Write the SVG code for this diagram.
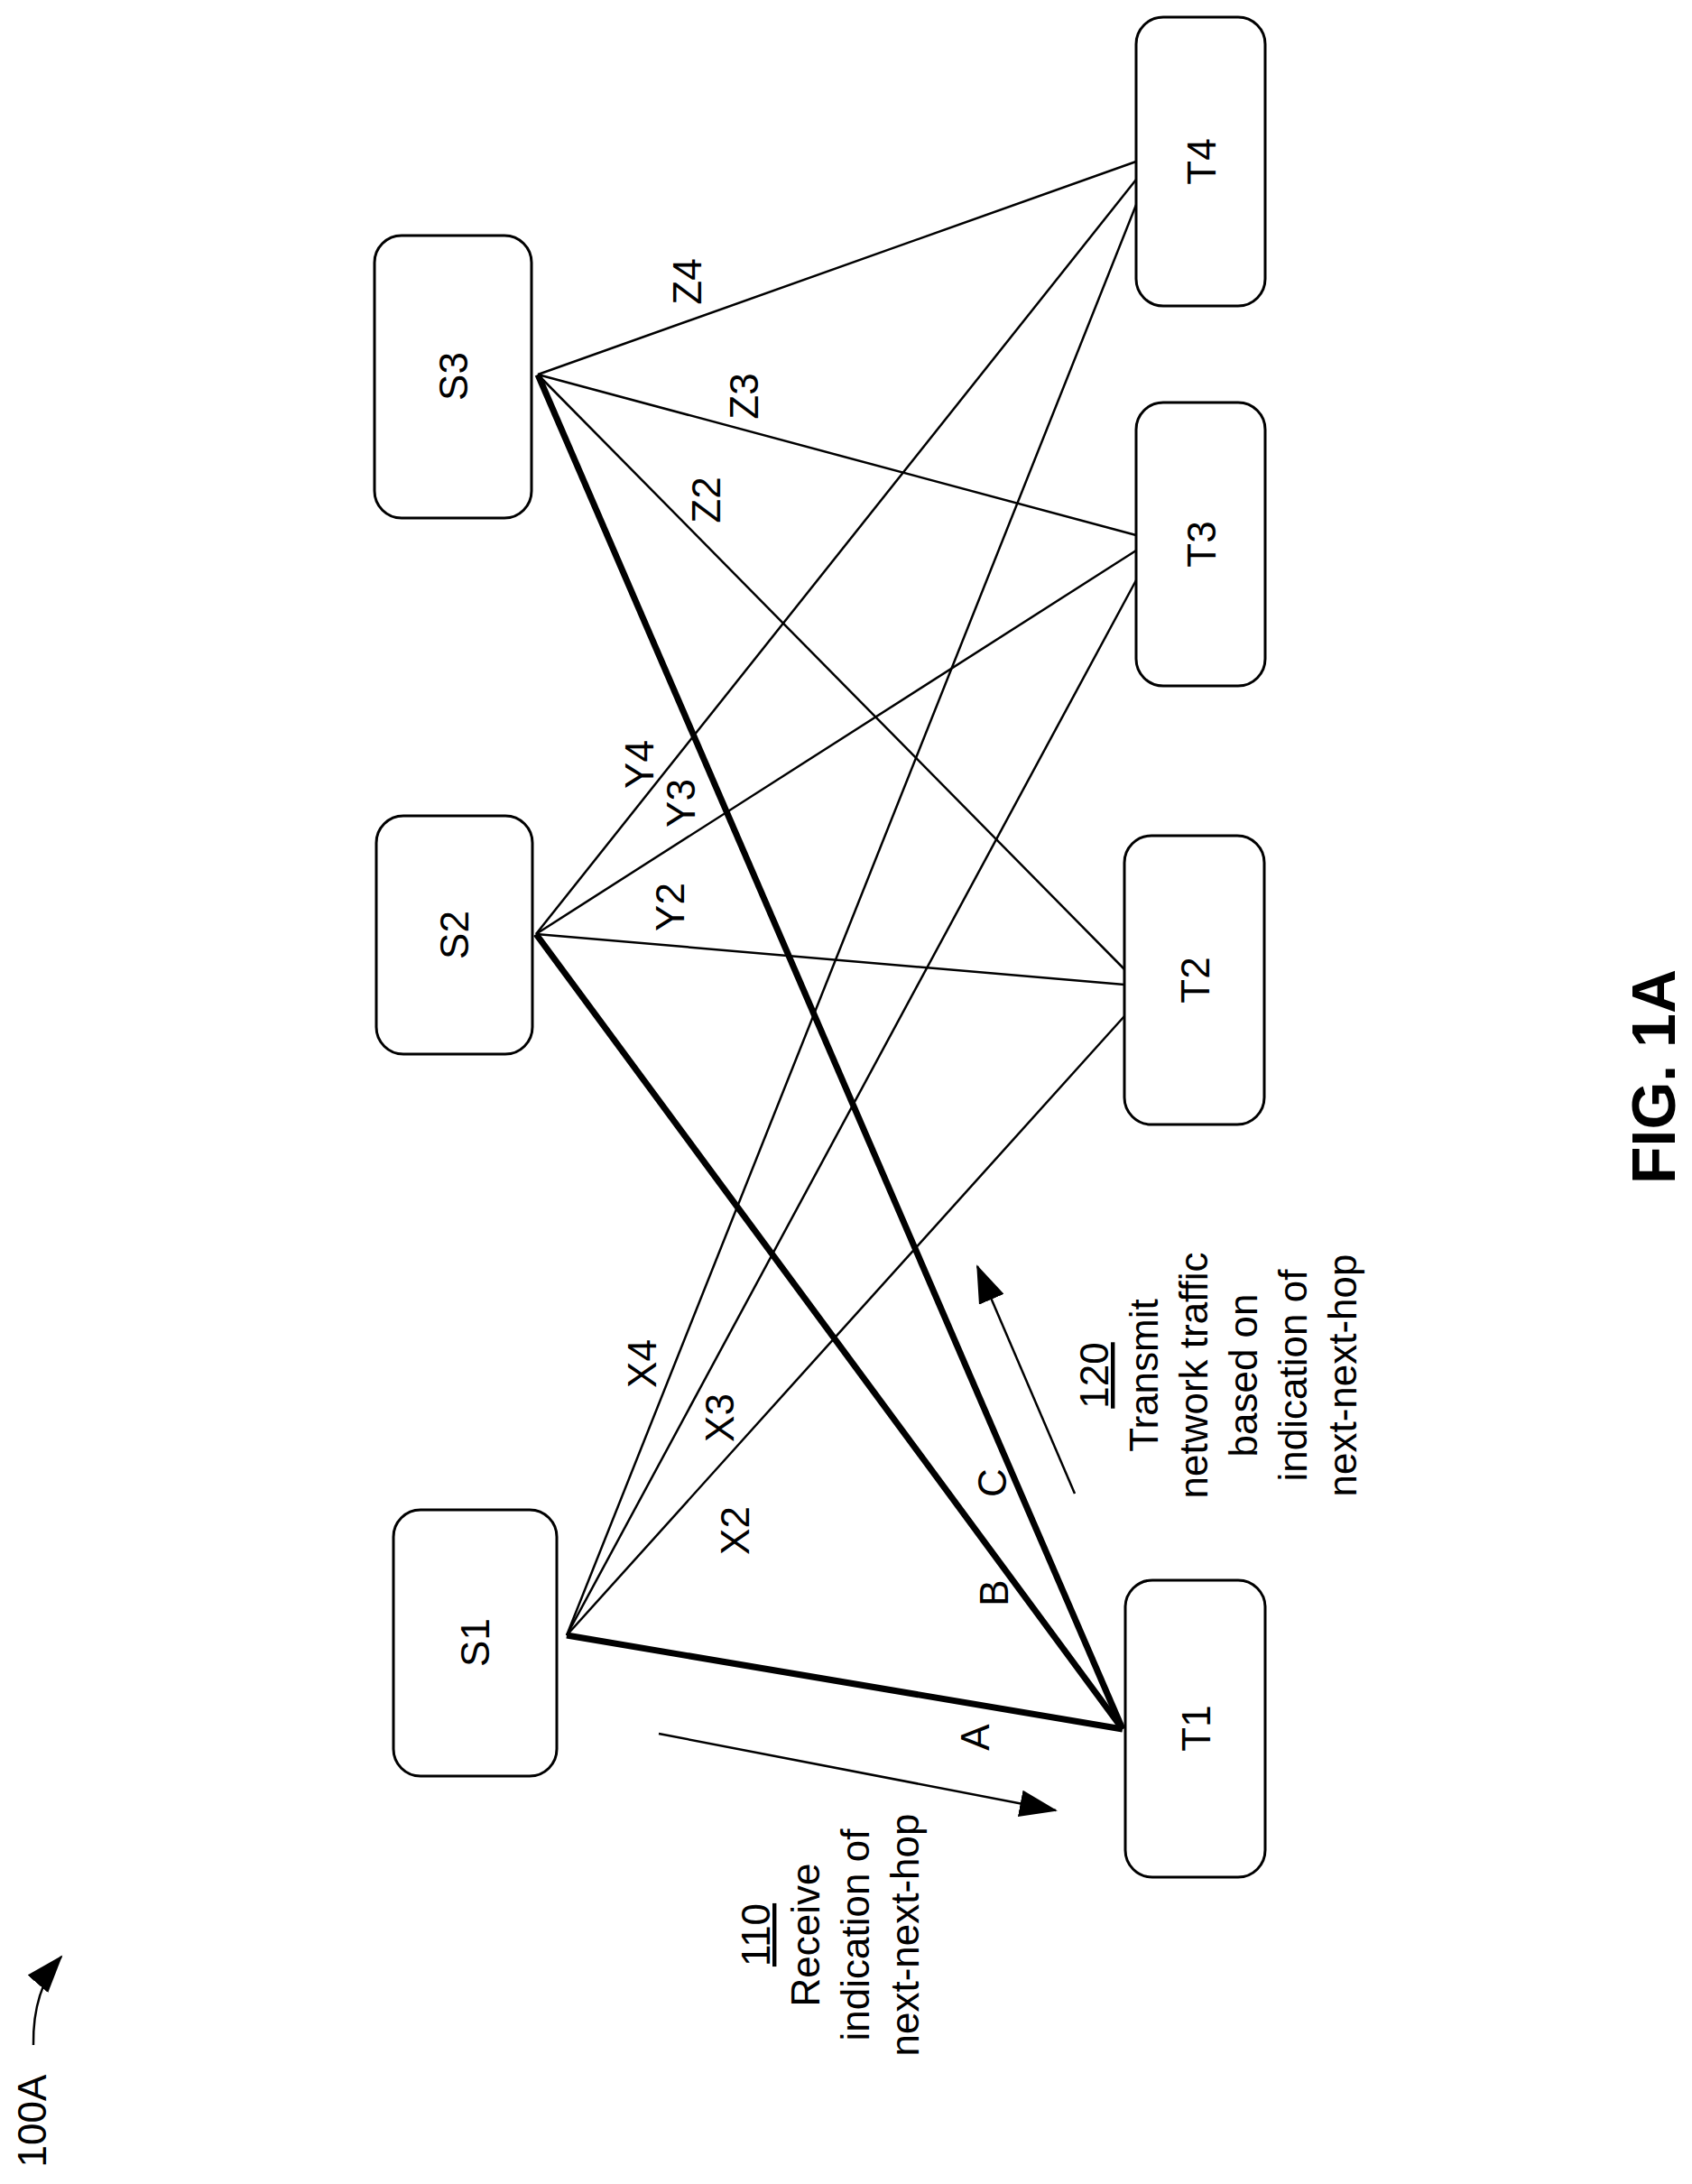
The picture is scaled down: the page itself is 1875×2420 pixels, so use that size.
<svg xmlns="http://www.w3.org/2000/svg" width="1875" height="2420" viewBox="0 0 1875 2420">
<style>
.box{fill:#fff;stroke:#000;stroke-width:3}
.t{font-family:"Liberation Sans",Arial,sans-serif;font-size:44px;fill:#000}
.fig{font-family:"Liberation Sans",Arial,sans-serif;font-size:68px;font-weight:bold;fill:#000}
.thin{stroke:#000;stroke-width:2.5;fill:none}
.thick{stroke:#000;stroke-width:7;fill:none}
</style>
<defs>
<marker id="ah" markerUnits="userSpaceOnUse" markerWidth="44" markerHeight="30" refX="40" refY="15" orient="auto">
<path d="M0,0 L42,15 L0,30 Z" fill="#000"/>
</marker>
</defs>
<rect width="1875" height="2420" fill="#fff"/>
<g id="connectors">
<line class="thin" x1="628" y1="1812" x2="1246" y2="1126"/>
<line class="thin" x1="628" y1="1812" x2="1259" y2="643"/>
<line class="thin" x1="628" y1="1812" x2="1259" y2="227"/>
<line class="thin" x1="594" y1="1035" x2="1246" y2="1091"/>
<line class="thin" x1="594" y1="1035" x2="1259" y2="610"/>
<line class="thin" x1="594" y1="1035" x2="1259" y2="199"/>
<line class="thin" x1="596" y1="415" x2="1246" y2="1074"/>
<line class="thin" x1="596" y1="415" x2="1259" y2="593"/>
<line class="thin" x1="596" y1="415" x2="1259" y2="179"/>
<line class="thick" x1="628" y1="1812" x2="1244" y2="1916"/>
<line class="thick" x1="594" y1="1035" x2="1244" y2="1916"/>
<line class="thick" x1="596" y1="415" x2="1244" y2="1916"/>
<line class="thin" x1="730" y1="1921" x2="1170" y2="2006" marker-end="url(#ah)"/>
<line class="thin" x1="1191" y1="1655" x2="1083" y2="1403" marker-end="url(#ah)"/>
<path class="thin" d="M37,2266 Q36,2205 68,2168" stroke-width="4" marker-end="url(#ah)"/>
</g>
<g class="t">
<text transform="translate(1080,1925) rotate(-90)" text-anchor="middle" dominant-baseline="central">A</text>
<text transform="translate(1101,1765) rotate(-90)" text-anchor="middle" dominant-baseline="central">B</text>
<text transform="translate(1099,1643) rotate(-90)" text-anchor="middle" dominant-baseline="central">C</text>
<text transform="translate(814,1696) rotate(-90)" text-anchor="middle" dominant-baseline="central">X2</text>
<text transform="translate(797,1571) rotate(-90)" text-anchor="middle" dominant-baseline="central">X3</text>
<text transform="translate(711,1511) rotate(-90)" text-anchor="middle" dominant-baseline="central">X4</text>
<text transform="translate(742,1005) rotate(-90)" text-anchor="middle" dominant-baseline="central">Y2</text>
<text transform="translate(754,890) rotate(-90)" text-anchor="middle" dominant-baseline="central">Y3</text>
<text transform="translate(708,847) rotate(-90)" text-anchor="middle" dominant-baseline="central">Y4</text>
<text transform="translate(782,554) rotate(-90)" text-anchor="middle" dominant-baseline="central">Z2</text>
<text transform="translate(824,439) rotate(-90)" text-anchor="middle" dominant-baseline="central">Z3</text>
<text transform="translate(761,312) rotate(-90)" text-anchor="middle" dominant-baseline="central">Z4</text>
</g>
<g id="S1"><rect class="box" x="436" y="1673" width="181" height="295" rx="30"/><text class="t" transform="translate(526,1820) rotate(-90)" text-anchor="middle" dominant-baseline="central">S1</text></g>
<g id="S2"><rect class="box" x="417" y="904" width="173" height="264" rx="30"/><text class="t" transform="translate(503,1036) rotate(-90)" text-anchor="middle" dominant-baseline="central">S2</text></g>
<g id="S3"><rect class="box" x="415" y="261" width="174" height="313" rx="30"/><text class="t" transform="translate(502,417) rotate(-90)" text-anchor="middle" dominant-baseline="central">S3</text></g>
<g id="T1"><rect class="box" x="1247" y="1751" width="155" height="329" rx="30"/><text class="t" transform="translate(1325,1915) rotate(-90)" text-anchor="middle" dominant-baseline="central">T1</text></g>
<g id="T2"><rect class="box" x="1246" y="926" width="155" height="320" rx="30"/><text class="t" transform="translate(1324,1086) rotate(-90)" text-anchor="middle" dominant-baseline="central">T2</text></g>
<g id="T3"><rect class="box" x="1259" y="446" width="143" height="314" rx="30"/><text class="t" transform="translate(1331,603) rotate(-90)" text-anchor="middle" dominant-baseline="central">T3</text></g>
<g id="T4"><rect class="box" x="1259" y="19" width="143" height="320" rx="30"/><text class="t" transform="translate(1331,179) rotate(-90)" text-anchor="middle" dominant-baseline="central">T4</text></g>
<g id="step110" class="t" text-anchor="middle">
<text transform="translate(853,2144) rotate(-90)" text-decoration="underline">110</text>
<text transform="translate(908,2144) rotate(-90)">Receive</text>
<text transform="translate(963,2144) rotate(-90)">indication of</text>
<text transform="translate(1018,2144) rotate(-90)">next-next-hop</text>
</g>
<g id="step120" class="t" text-anchor="middle">
<text transform="translate(1228,1524) rotate(-90)" text-decoration="underline">120</text>
<text transform="translate(1283,1524) rotate(-90)">Transmit</text>
<text transform="translate(1338,1524) rotate(-90)">network traffic</text>
<text transform="translate(1393,1524) rotate(-90)">based on</text>
<text transform="translate(1448,1524) rotate(-90)">indication of</text>
<text transform="translate(1503,1524) rotate(-90)">next-next-hop</text>
</g>
<text class="t" transform="translate(51,2350) rotate(-90)" text-anchor="middle">100A</text>
<text class="fig" transform="translate(1856,1193) rotate(-90)" text-anchor="middle">FIG. 1A</text>
</svg>
